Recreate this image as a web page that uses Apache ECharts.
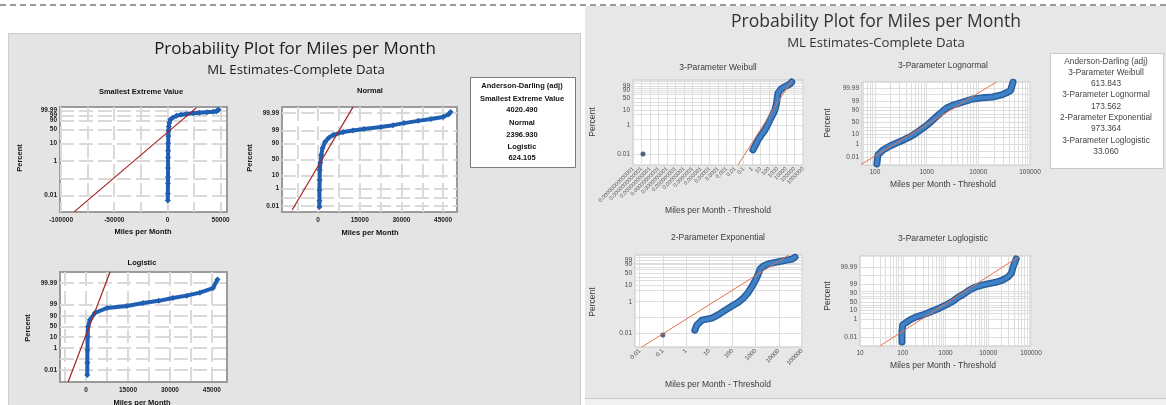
<!DOCTYPE html>
<html><head><meta charset="utf-8">
<script src="https://cdn.jsdelivr.net/npm/echarts@6/dist/echarts.min.js"></script>
<style>
html,body{margin:0;padding:0;background:#fff;}
#wrap{position:relative;width:1166px;height:405px;overflow:hidden;background:#fff;}
.bg{position:absolute;box-sizing:border-box;}
#c{position:absolute;left:0;top:0;width:1166px;height:405px;}
</style>
</head><body>
<div id="wrap">
  <div class="bg" style="left:0;top:4px;width:1166px;height:0;border-top:2px dashed #9c9c9c;"></div>
  <div class="bg" style="left:8px;top:33px;width:573px;height:380px;background:#e4e4e4;border-left:1px solid #cdcdcd;border-top:1px solid #cdcdcd;border-right:1px solid #cdcdcd;"></div>
  <div class="bg" style="left:585px;top:6px;width:581px;height:393px;background:#e7e7e7;border-bottom:1px solid #c9c9c9;"></div>
  <div class="bg" style="left:585px;top:399px;width:581px;height:6px;background:#f1f1f1;"></div>
  <div id="c"></div>
</div>
<script>
// ================= DATA (x value, cumulative percent) =================
// Left figure
const sevPoints = [[350,0.005],[420,0.013],[480,0.05],[520,0.12],[560,0.4],[600,1.6],[650,4],[720,10.2],[850,25],[1000,45],[1300,65],[1800,83],[2800,93],[5000,96.7],[8500,98.8],[12700,99.4],[18000,99.65],[24000,99.8],[30000,99.87],[37000,99.92],[43000,99.95],[46000,99.97],[47500,99.99],[48000,99.995]];
const sevFit = [[-87700,0.0011],[27400,99.9998]];
const normPoints = [[450,0.007],[480,0.05],[500,0.73],[550,5],[600,20],[800,40],[1100,64],[1600,82],[2500,92],[3800,95.8],[5400,97.5],[9000,98.6],[12500,99],[16500,99.27],[22600,99.53],[27000,99.7],[30900,99.82],[36000,99.9],[40600,99.94],[45000,99.966],[47000,99.985],[47700,99.993]];
const normFit = [[-9350,0.0027],[12600,99.9987]];
const logisPoints = [[450,0.0034],[480,0.045],[500,0.67],[600,10],[700,50],[1400,80],[3200,94.5],[7500,98],[14600,98.7],[20400,99.3],[26000,99.55],[31000,99.75],[36000,99.85],[40700,99.92],[45400,99.97],[47000,99.995]];
const logisFit = [[-6400,0.00078],[8600,99.999]];
// Right figure (Miles per Month - Threshold)
const weibPoints = [[1.3,0.02],[3,0.05],[5,0.095],[12,0.2],[34,0.46],[70,1],[130,2.2],[280,5],[500,10],[700,20],[870,40],[1000,60],[1150,78],[2000,90],[3400,96],[8000,98.5],[17000,99.5],[30000,99.8],[47000,99.98]];
const weibOutlier = [[1.5e-13,0.0105]];
const weibFit = [[0.022,0.0018],[50000,99.9992]];
const lognPoints = [[109,0.0004],[114,0.023],[143,0.15],[200,0.6],[266,1.4],[360,3],[475,6],[650,14],[850,27],[1100,45],[1320,61],[1800,83],[2450,94],[3300,97],[4400,98.2],[7800,99.43],[12000,99.6],[19000,99.7],[28000,99.85],[35000,99.93],[42000,99.97],[44000,99.993],[47000,99.9993]];
const lognFit = [[52,0.00023],[22400,99.99935]];
const expPoints = [[2.4,0.0155],[2.9,0.032],[4.8,0.067],[13,0.09],[25,0.15],[48,0.28],[100,0.55],[175,0.9],[300,1.7],[475,3.7],[700,9],[960,19.5],[1250,40],[1580,71],[2200,85],[3500,92.3],[7000,96],[14000,98],[25000,99],[38000,99.5],[50000,99.9]];
const expOutlier = [[0.1,0.0075]];
const expFit = [[0.0123,0.0013],[26300,99.9925]];
const loglogPoints = [[96,0.0027],[96,0.037],[100,0.24],[148,0.9],[200,1.8],[295,3.2],[450,7],[740,17],[1100,35],[1500,55],[1860,74],[2600,88],[3700,96],[5200,98.2],[7600,98.9],[11000,99.25],[16000,99.48],[22000,99.7],[29000,99.86],[35000,99.95],[38000,99.99],[45000,99.9988]];
const loglogFit = [[29,0.00092],[50000,99.99925]];

// Tick labels
const sevXLabels = [-100000,-50000,0,50000];
const sevXGrid = [-100000,-75000,-50000,-25000,0,25000,50000];
const linXLabels = [0,15000,30000,45000];
const linXGrid = [-7500,0,7500,15000,22500,30000,37500,45000];
const sevYLabels = ['0.01','1','10','50','90','99','99.99','99.9999'];
const probYLabels = ['0.01','1','10','50','90','99','99.99'];
const leftYGrid = ['0.01','0.1','1','10','50','90','99','99.99'];
const rightYGrid = ['0.01','0.1','1','5','10','20','30','50','70','80','90','95','99','99.9','99.99'];
const weibXLabels = ['0.00000000000001','0.0000000000001','0.000000000001','0.00000000001','0.0000000001','0.000000001','0.00000001','0.0000001','0.000001','0.00001','0.0001','0.001','0.01','0.1','1','10','100','1000','10000','100000','1000000'];
const expXLabels = ['0.01','0.1','1','10','100','1000','10000','100000'];
const lognXLabels = ['100','1000','10000','100000'];
const loglogXLabels = ['10','100','1000','10000','100000'];

// Texts
const leftTitle = 'Probability Plot for Miles per Month';
const leftSubtitle = 'ML Estimates-Complete Data';
const rightTitle = 'Probability Plot for Miles per Month';
const rightSubtitle = 'ML Estimates-Complete Data';
const leftLegend = ['Anderson-Darling (adj)','Smallest Extreme Value','4020.490','Normal','2396.930','Logistic','624.105'];
const rightLegend = ['Anderson-Darling (adj)','3-Parameter Weibull','613.843','3-Parameter Lognormal','173.562','2-Parameter Exponential','973.364','3-Parameter Loglogistic','33.060'];

// ================= SCALES =================
function probit(p){
  const a=[-3.969683028665376e+01,2.209460984245205e+02,-2.759285104469687e+02,1.383577518672690e+02,-3.066479806614716e+01,2.506628277459239e+00];
  const b=[-5.447609879822406e+01,1.615858368580409e+02,-1.556989798598866e+02,6.680131188771972e+01,-1.328068155288572e+01];
  const c=[-7.784894002430293e-03,-3.223964580411365e-01,-2.400758277161838e+00,-2.549732539343734e+00,4.374664141464968e+00,2.938163982698783e+00];
  const d=[7.784695709041462e-03,3.224671290700398e-01,2.445134137142996e+00,3.754408661907416e+00];
  const pl=0.02425, ph=1-pl; let q,r;
  if(p<pl){q=Math.sqrt(-2*Math.log(p));return (((((c[0]*q+c[1])*q+c[2])*q+c[3])*q+c[4])*q+c[5])/((((d[0]*q+d[1])*q+d[2])*q+d[3])*q+1);}
  if(p>ph){q=Math.sqrt(-2*Math.log(1-p));return -(((((c[0]*q+c[1])*q+c[2])*q+c[3])*q+c[4])*q+c[5])/((((d[0]*q+d[1])*q+d[2])*q+d[3])*q+1);}
  q=p-0.5;r=q*q;return (((((a[0]*r+a[1])*r+a[2])*r+a[3])*r+a[4])*r+a[5])*q/(((((b[0]*r+b[1])*r+b[2])*r+b[3])*r+b[4])*r+1);
}
const YT = {
  norm: p => probit(p/100),
  sev: p => Math.log(-Math.log(1-p/100)),
  logit: p => Math.log((p/100)/(1-p/100))
};
const XT = { lin: v => v, log: v => Math.log10(v) };
function logGrid(lo, hi, minor){
  const out=[];
  for(let d=Math.floor(lo); d<=Math.ceil(hi); d++){
    (minor?[1,2,3,4,5,6,7,8,9]:[1]).forEach(k=>{const v=d+Math.log10(k); if(v>=lo-1e-9&&v<=hi+1e-9) out.push(v);});
  }
  return out;
}
function nearestLabel(labels, vals, v){
  let bi=0, bd=Infinity;
  vals.forEach((x,j)=>{const dd=Math.abs(x-v); if(dd<bd){bd=dd;bi=j;}});
  return String(labels[bi]);
}

// ================= LAYOUT =================
const panels = [
  {side:'L', box:[60,107,167,105], xs:'lin', ys:'sev',   xr:[-101000,56000], yr:[-11.43,2.66], pts:sevPoints,   fit:sevFit,   xl:sevXLabels, xg:sevXGrid, yl:sevYLabels},
  {side:'L', box:[282,107,175,105], xs:'lin', ys:'norm', xr:[-13000,50000], yr:[-4.2,4.2],     pts:normPoints,  fit:normFit,  xl:linXLabels, xg:linXGrid, yl:probYLabels},
  {side:'L', box:[60,272,167,110], xs:'lin', ys:'logit', xr:[-9300,50400], yr:[-11.76,11.5],   pts:logisPoints, fit:logisFit, xl:linXLabels, xg:linXGrid, yl:probYLabels},
  {side:'R', box:[633,80,170,85],  xs:'log', ys:'sev',   xr:[-14,6],   yr:[-10.9,2.46],  pts:weibPoints,  fit:weibFit,  out:weibOutlier, xl:weibXLabels, minor:false, rot:45, xfs:5.5, yl:probYLabels},
  {side:'R', box:[862,82,168,83],  xs:'log', ys:'norm',  xr:[1.75,5],  yr:[-4.58,4.36],  pts:lognPoints,  fit:lognFit,  xl:lognXLabels, minor:true, yl:probYLabels},
  {side:'R', box:[635,255,167,92], xs:'log', ys:'sev',   xr:[-2.2,5],  yr:[-11.24,2.25], pts:expPoints,   fit:expFit,   out:expOutlier, xl:expXLabels, minor:false, rot:45, xfs:6, yl:probYLabels},
  {side:'R', box:[860,256,171,90], xs:'log', ys:'logit', xr:[1,5],     yr:[-11.6,12.1],  pts:loglogPoints,fit:loglogFit,xl:loglogXLabels, minor:true, yl:probYLabels}
];

const grids=[], xAxes=[], yAxes=[], series=[];
panels.forEach((P,i)=>{
  const L = P.side==='L';
  const fx = XT[P.xs], fy = YT[P.ys];
  grids.push({left:P.box[0], top:P.box[1], width:P.box[2], height:P.box[3], show:true,
    backgroundColor:'#ffffff', borderColor: L?'#9b9b9b':'#c6c6c6', borderWidth: L?2:1});
  const xVals = P.xl.map(v=>fx(+v));
  const xGrid = P.xs==='lin' ? P.xg : logGrid(P.xr[0], P.xr[1], P.minor);
  const yVals = P.yl.map(v=>fy(+v));
  const yGrid = (L?leftYGrid:rightYGrid).map(v=>fy(+v));
  const lblStyle = L ? {fontSize:6.5, fontWeight:'bold', color:'#1e1e1e', fontFamily:'Liberation Sans'}
                     : {fontSize:6.5, color:'#4a4a4a', fontFamily:'Liberation Sans'};
  const split = L ? {show:true, lineStyle:{color:'#dadada', width:2, type:[14,5]}}
                  : {show:true, lineStyle:{color:'#dedede', width:1}};
  const xStyle = Object.assign({}, lblStyle, P.xfs?{fontSize:P.xfs}:{});
  xAxes.push({gridIndex:i, type:'value', min:P.xr[0], max:P.xr[1],
    axisLine:{show:false}, axisTick:{show:false, customValues:xGrid}, splitLine:split,
    axisLabel:Object.assign({customValues:xVals, formatter:v=>nearestLabel(P.xl,xVals,v),
      rotate:P.rot||0, margin: P.rot?3:(L?5:4)}, xStyle)});
  yAxes.push({gridIndex:i, type:'value', min:P.yr[0], max:P.yr[1],
    axisLine:{show:false}, axisTick:{show:false, customValues:yGrid}, splitLine:split,
    axisLabel:Object.assign({customValues:yVals, formatter:v=>nearestLabel(P.yl,yVals,v), margin:3}, lblStyle)});
  const tr = arr => arr.map(([x,p])=>[fx(x), fy(p)]);
  if(L){
    series.push({type:'line', xAxisIndex:i, yAxisIndex:i, data:tr(P.pts), silent:true, animation:false, z:3,
      lineStyle:{width:4, color:'#1f5fb2'}, symbol:'diamond', symbolSize:6, showSymbol:true,
      itemStyle:{color:'#1f5fb2'}});
  } else {
    series.push({type:'line', xAxisIndex:i, yAxisIndex:i, data:tr(P.pts), silent:true, animation:false, z:2,
      lineStyle:{width:7, color:'#2a5d9e', cap:'round', join:'round'}, symbol:'none'});
    series.push({type:'line', xAxisIndex:i, yAxisIndex:i, data:tr(P.pts), silent:true, animation:false, z:3,
      lineStyle:{width:4, color:'#3f82c6', cap:'round', join:'round'}, symbol:'none'});
  }
  if(P.out){
    series.push({type:'scatter', xAxisIndex:i, yAxisIndex:i, data:tr(P.out), silent:true, animation:false, z:3,
      symbol:'circle', symbolSize:5, itemStyle:{color:'#2a3f5c'}});
  }
  series.push({type:'line', xAxisIndex:i, yAxisIndex:i, data:tr(P.fit), silent:true, animation:false, z:4,
    symbol:'none', lineStyle:{width: L?1.2:1, color: L?'#a52222':'#e2734f'}});
});

// ================= TEXT / GRAPHICS =================
const G = [];
function txt(s, x, y, o){
  o=o||{};
  G.push({type:'text', x:x, y:y, rotation:o.rot||0, z:50,
    style:{text:s, align:'center', verticalAlign:'middle', fill:o.color||'#1a1a1a',
      fontSize:o.size||7, fontWeight:o.weight||'normal', fontFamily:o.family||'Liberation Sans'}});
}
// titles
txt(leftTitle, 295, 49, {size:17, family:'Open Sans', color:'#1c1c1c'});
txt(leftSubtitle, 296, 70, {size:13.2, family:'Open Sans', color:'#1c1c1c'});
txt(rightTitle, 876, 22, {size:17.5, family:'Open Sans', color:'#333'});
txt(rightSubtitle, 876, 43, {size:13.2, family:'Open Sans', color:'#333'});
// left panel titles / axis names
const LB = {size:7.5, weight:'bold', color:'#111'};
txt('Smallest Extreme Value', 141, 92, LB);
txt('Normal', 370, 91, LB);
txt('Logistic', 142, 263, LB);
txt('Miles per Month', 143, 232, LB);
txt('Miles per Month', 370, 233, LB);
txt('Miles per Month', 142, 403, LB);
txt('Percent', 20, 158, Object.assign({rot:Math.PI/2}, LB));
txt('Percent', 250, 158, Object.assign({rot:Math.PI/2}, LB));
txt('Percent', 28, 328, Object.assign({rot:Math.PI/2}, LB));
// right panel titles / axis names
const RB = {size:8.5, color:'#3c3c3c'};
txt('3-Parameter Weibull', 718, 68, RB);
txt('3-Parameter Lognormal', 943, 66, RB);
txt('2-Parameter Exponential', 718, 238, RB);
txt('3-Parameter Loglogistic', 943, 239, RB);
txt('Miles per Month - Threshold', 718, 211, RB);
txt('Miles per Month - Threshold', 943, 185, RB);
txt('Miles per Month - Threshold', 718, 385, RB);
txt('Miles per Month - Threshold', 943, 366, RB);
txt('Percent', 593, 122, Object.assign({rot:Math.PI/2}, RB));
txt('Percent', 828, 123, Object.assign({rot:Math.PI/2}, RB));
txt('Percent', 593, 302, Object.assign({rot:Math.PI/2}, RB));
txt('Percent', 828, 296, Object.assign({rot:Math.PI/2}, RB));
// legend boxes
G.push({type:'rect', z:40, shape:{x:470.5,y:77.5,width:105,height:90}, style:{fill:'#fff', stroke:'#7a7a7a', lineWidth:1}});
const lly = [86,99,110,123,135,147,158];
leftLegend.forEach((s,k)=>txt(s, 522, lly[k], {size:7.5, weight:'bold', color:'#111'}));
G.push({type:'rect', z:40, shape:{x:1050.5,y:53.5,width:113,height:115}, style:{fill:'#fff', stroke:'#c8c8c8', lineWidth:1}});
const rly = [62,73,84,95,107,118,129,141,152];
rightLegend.forEach((s,k)=>txt(s, 1106, rly[k], {size:8.3, color:'#444'}));

const chart = echarts.init(document.getElementById('c'), null, {renderer:'canvas', width:1166, height:405});
chart.setOption({
  backgroundColor:'transparent',
  animation:false,
  grid:grids, xAxis:xAxes, yAxis:yAxes, series:series,
  graphic:G
});
</script>
</body></html>
